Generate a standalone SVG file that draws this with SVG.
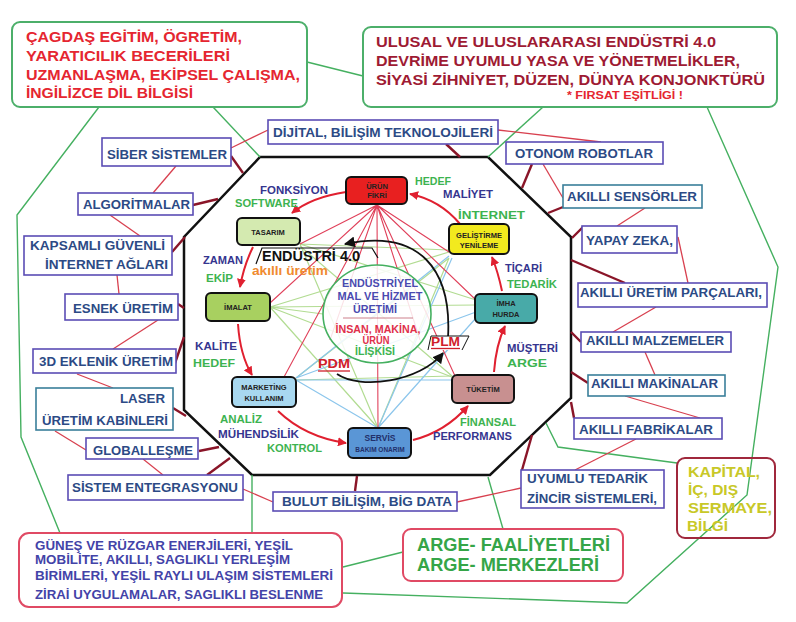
<svg xmlns="http://www.w3.org/2000/svg" width="796" height="622" viewBox="0 0 796 622">
<defs>
<style>
text{font-family:"Liberation Sans",Arial,sans-serif;font-weight:bold}
.bx{fill:#fff;stroke:#5b4db5;stroke-width:1.6}
.bxt{fill:#fff;stroke:#3a7f9a;stroke-width:1.6}
.bt{font-size:12.5px;fill:#2c4a85}
.lnk{stroke:#d8404f;stroke-width:1.3;fill:none}
.stub{stroke:#8a1528;stroke-width:2.4;fill:none}
.grn{stroke:#45b060;stroke-width:1.4;fill:none}
.lg{stroke:#b2dc92;stroke-width:1.2;fill:none}
.lb{stroke:#8cc6ec;stroke-width:1.2;fill:none}
.rf{stroke:#e0405a;stroke-width:1.1;fill:none}
.ra{stroke:#e02030;stroke-width:2;fill:none;marker-end:url(#ah)}
.ba{stroke:#111;stroke-width:1.8;fill:none;marker-end:url(#bh)}
.nd{stroke:#111;stroke-width:2}
.nt{font-size:7.5px;fill:#222}
.lbn{font-size:10px;fill:#35358f}
.lbg{font-size:10px;fill:#3db350}
</style>
<marker id="ah" viewBox="0 0 10 10" refX="9" refY="5" markerWidth="9" markerHeight="9" markerUnits="userSpaceOnUse" orient="auto"><path d="M0,0 L10,5 L0,10 z" fill="#e02030"/></marker>
<marker id="bh" viewBox="0 0 10 10" refX="9" refY="5" markerWidth="11" markerHeight="11" markerUnits="userSpaceOnUse" orient="auto"><path d="M0,0 L10,5 L0,10 z" fill="#111"/></marker>
</defs>
<rect width="796" height="622" fill="#fff"/>

<g id="octagon">
<polygon points="260,157 488,157 571,237 571,398 490,475 252,475 184,410 184,237" fill="#fff" stroke="#111" stroke-width="2.5"/>
</g>

<g id="connectors">
<path class="grn" d="M307,62 L363,76"/>
<path class="grn" d="M99,107 L17,215 L21,437 L60,533"/>
<path class="grn" d="M213,107 L260,157"/>
<path class="grn" d="M543,107 L488,157"/>
<path class="grn" d="M707,107 L778,267 L747,495 L627,603 L343,593"/>
<path class="grn" d="M252,475 L252,533"/>
<path class="grn" d="M488,477 L503,529"/>
<path class="grn" d="M343,567 L403,552"/>
<path class="grn" d="M546,423 L558,447 L677,463"/>
<path class="lnk" d="M268,130 L231,148"/>
<path class="lnk" d="M176,166 L153,193"/>
<path class="lnk" d="M110,215 L140,236"/>
<path class="lnk" d="M117,275 L119,294"/>
<path class="lnk" d="M158,320 L113,349"/>
<path class="lnk" d="M77,374 L113,388"/>
<path class="lnk" d="M55,431 L86,450"/>
<path class="lnk" d="M143,459 L163,475"/>
<path class="lnk" d="M243,489 L273,502"/>
<path class="lnk" d="M457,502 L521,488"/>
<path class="lnk" d="M498,130 L601,142"/>
<path class="lnk" d="M543,164 L563,198"/>
<path class="lnk" d="M645,208 L617,226"/>
<path class="lnk" d="M678,237 L688,283"/>
<path class="lnk" d="M656,307 L613,332"/>
<path class="lnk" d="M645,352 L655,375"/>
<path class="lnk" d="M625,396 L700,418"/>
<path class="lnk" d="M636,439 L575,470"/>
<path class="stub" d="M231,156 L243,173"/>
<path class="stub" d="M193,205 L218,199"/>
<path class="stub" d="M172,252 L185,237"/>
<path class="stub" d="M178,304 L184,308"/>
<path class="stub" d="M174,366 L184,337"/>
<path class="stub" d="M173,408 L186,416"/>
<path class="stub" d="M199,451 L219,447"/>
<path class="stub" d="M207,475 L230,458"/>
<path class="stub" d="M357,476 L355,491"/>
<path class="stub" d="M522,470 L532,435"/>
<path class="stub" d="M574,418 L571,402"/>
<path class="stub" d="M588,383 L571,372"/>
<path class="stub" d="M581,342 L571,332"/>
<path class="stub" d="M571,260 L625,283"/>
<path class="stub" d="M583,227 L572,238"/>
<path class="stub" d="M563,207 L548,213"/>
<path class="stub" d="M532,164 L522,188"/>
<path class="stub" d="M446,144 L460,157"/>
<path class="lg" d="M270,307 L449,252 M270,307 L476,305 M270,307 L452,377 M270,307 L378,428 M270,307 L323,314"/>
<path class="lg" d="M300,244 L449,250 M300,244 L476,300 M300,244 L378,428"/>
<path class="lg" d="M449,258 L296,378 M449,258 L378,428 M452,376 L296,380 M452,376 L300,246"/>
<path class="lb" d="M296,378 L476,312 M296,378 L449,256 M296,380 L452,380 M378,428 L476,318 M378,428 L452,258 M378,428 L296,380"/>
<path class="rf" d="M377,205 L300,244 M377,205 L270,303 M377,205 L284,377 M377,205 L378,428 M377,205 L455,376 M377,205 L476,300 M377,205 L449,252 M377,205 L330,340 M377,205 L420,340"/>
<path class="ra" d="M346,192 Q312,197 292,213"/>
<path class="ra" d="M253,247 Q244,265 240,287"/>
<path class="ra" d="M238,324 Q240,355 252,375"/>
<path class="ra" d="M278,411 Q305,437 346,443"/>
<path class="ra" d="M413,440 Q445,432 468,406"/>
<path class="ra" d="M494,372 Q496,345 505,326"/>
<path class="ra" d="M502,291 Q498,272 492,257"/>
<path class="ra" d="M460,224 Q440,200 410,194"/>
<path class="ba" d="M448,338 C452,270 420,228 345,244"/>
<path class="ba" d="M337,374 C360,390 420,382 443,353"/>
</g>

<g id="top-left-box">
<rect x="12" y="22" width="295" height="85" rx="8" fill="#fff" stroke="#4caf6a" stroke-width="2"/>
<g font-size="15.5" fill="#e52630">
<text x="26" y="42" textLength="216" lengthAdjust="spacingAndGlyphs">ÇAGDAŞ EGİTİM, ÖGRETİM,</text>
<text x="26" y="61" textLength="204" lengthAdjust="spacingAndGlyphs">YARATICILIK BECERİLERİ</text>
<text x="26" y="80" textLength="274" lengthAdjust="spacingAndGlyphs">UZMANLAŞMA, EKİPSEL ÇALIŞMA,</text>
<text x="26" y="98" textLength="167" lengthAdjust="spacingAndGlyphs">İNGİLİZCE DİL BİLGİSİ</text>
</g>
</g>

<g id="top-right-box">
<rect x="363" y="27" width="414" height="80" rx="8" fill="#fff" stroke="#4caf6a" stroke-width="2"/>
<g font-size="15.5" fill="#9e1a33">
<text x="376" y="47" textLength="340" lengthAdjust="spacingAndGlyphs">ULUSAL VE ULUSLARARASI ENDÜSTRİ 4.0</text>
<text x="376" y="66" textLength="364" lengthAdjust="spacingAndGlyphs">DEVRİME UYUMLU YASA VE YÖNETMELİKLER,</text>
<text x="376" y="85" textLength="389" lengthAdjust="spacingAndGlyphs">SİYASİ ZİHNİYET, DÜZEN, DÜNYA KONJONKTÜRÜ</text>
</g>
<text x="567" y="99" font-size="11.5" fill="#e52630" textLength="116" lengthAdjust="spacingAndGlyphs">* FIRSAT EŞİTLİGİ !</text>
</g>

<g id="dijital"><rect class="bx" x="268" y="120" width="230" height="24"/><text class="bt" x="273" y="137" textLength="220" lengthAdjust="spacingAndGlyphs">DİJİTAL, BİLİŞİM TEKNOLOJİLERİ</text></g>
<g id="siber"><rect class="bx" x="102" y="138" width="129" height="28"/><text class="bt" x="107" y="159" textLength="120" lengthAdjust="spacingAndGlyphs">SİBER SİSTEMLER</text></g>
<g id="algoritmalar"><rect class="bx" x="78" y="193" width="115" height="22"/><text class="bt" x="83" y="209" textLength="107" lengthAdjust="spacingAndGlyphs">ALGORİTMALAR</text></g>
<g id="kapsamli"><rect class="bx" x="24" y="236" width="148" height="39"/><text class="bt" x="30" y="250" textLength="135" lengthAdjust="spacingAndGlyphs">KAPSAMLI  GÜVENLİ</text><text class="bt" x="45" y="269" textLength="123" lengthAdjust="spacingAndGlyphs">İNTERNET AĞLARI</text></g>
<g id="esnek"><rect class="bx" x="65" y="294" width="113" height="26"/><text class="bt" x="73" y="313" textLength="100" lengthAdjust="spacingAndGlyphs">ESNEK ÜRETİM</text></g>
<g id="eklenik"><rect class="bx" x="33" y="349" width="143" height="24"/><text class="bt" x="39" y="366" textLength="134" lengthAdjust="spacingAndGlyphs">3D EKLENİK ÜRETİM</text></g>
<g id="laser"><rect class="bxt" x="36" y="388" width="137" height="42"/><text class="bt" x="120" y="403" textLength="45" lengthAdjust="spacingAndGlyphs">LASER</text><text class="bt" x="42" y="425" textLength="126" lengthAdjust="spacingAndGlyphs">ÜRETİM KABİNLERİ</text></g>
<g id="globallesme"><rect class="bx" x="86" y="438" width="112" height="21"/><text class="bt" x="93" y="455" textLength="100" lengthAdjust="spacingAndGlyphs">GLOBALLEŞME</text></g>
<g id="sistem"><rect class="bx" x="68" y="475" width="175" height="25"/><text class="bt" x="72" y="492" textLength="166" lengthAdjust="spacingAndGlyphs">SİSTEM ENTEGRASYONU</text></g>
<g id="bulut"><rect class="bx" x="273" y="492" width="184" height="19"/><text class="bt" x="282" y="506" textLength="170" lengthAdjust="spacingAndGlyphs">BULUT BİLİŞİM, BİG DATA</text></g>
<g id="otonom"><rect class="bx" x="506" y="142" width="157" height="22"/><text class="bt" x="515" y="158" textLength="138" lengthAdjust="spacingAndGlyphs">OTONOM ROBOTLAR</text></g>
<g id="sensor"><rect class="bxt" x="563" y="185" width="139" height="23"/><text class="bt" x="567" y="201" textLength="130" lengthAdjust="spacingAndGlyphs">AKILLI SENSÖRLER</text></g>
<g id="yapay"><rect class="bx" x="582" y="226" width="95" height="27"/><text class="bt" x="586" y="245" textLength="87" lengthAdjust="spacingAndGlyphs">YAPAY ZEKA,</text></g>
<g id="parcalari"><rect class="bx" x="578" y="283" width="189" height="24"/><text class="bt" x="580" y="297" textLength="182" lengthAdjust="spacingAndGlyphs">AKILLI ÜRETİM PARÇALARI,</text></g>
<g id="malzeme"><rect class="bx" x="581" y="332" width="150" height="20"/><text class="bt" x="586" y="345" textLength="138" lengthAdjust="spacingAndGlyphs">AKILLI MALZEMELER</text></g>
<g id="makina"><rect class="bxt" x="588" y="375" width="137" height="21"/><text class="bt" x="591" y="388" textLength="127" lengthAdjust="spacingAndGlyphs">AKILLI MAKİNALAR</text></g>
<g id="fabrika"><rect class="bx" x="574" y="418" width="148" height="21"/><text class="bt" x="579" y="434" textLength="134" lengthAdjust="spacingAndGlyphs">AKILLI FABRİKALAR</text></g>
<g id="uyumlu"><rect class="bx" x="521" y="470" width="143" height="38"/><text class="bt" x="527" y="483" textLength="121" lengthAdjust="spacingAndGlyphs">UYUMLU TEDARİK</text><text class="bt" x="527" y="503" textLength="130" lengthAdjust="spacingAndGlyphs">ZİNCİR SİSTEMLERİ,</text></g>

<g id="bottom-left-box">
<rect x="19" y="533" width="323" height="74" rx="10" fill="#fff" stroke="#e04a64" stroke-width="2"/>
<g font-size="13" fill="#4343a8">
<text x="35" y="550" textLength="258" lengthAdjust="spacingAndGlyphs">GÜNEŞ VE RÜZGAR ENERJİLERİ, YEŞİL</text>
<text x="35" y="564" textLength="255" lengthAdjust="spacingAndGlyphs">MOBİLİTE, AKILLI, SAGLIKLI YERLEŞİM</text>
<text x="35" y="580" textLength="298" lengthAdjust="spacingAndGlyphs">BİRİMLERİ,  YEŞİL RAYLI ULAŞIM SİSTEMLERİ</text>
<text x="35" y="599" textLength="288" lengthAdjust="spacingAndGlyphs">ZİRAİ UYGULAMALAR, SAGLIKLI BESLENME</text>
</g>
</g>

<g id="arge-box">
<rect x="403" y="529" width="220" height="52" rx="8" fill="#fff" stroke="#e04a64" stroke-width="2"/>
<g font-size="19" fill="#35a548">
<text x="417" y="551" textLength="193" lengthAdjust="spacingAndGlyphs">ARGE- FAALİYETLERİ</text>
<text x="417" y="571" textLength="182" lengthAdjust="spacingAndGlyphs">ARGE- MERKEZLERİ</text>
</g>
</g>

<g id="kapital-box">
<rect x="677" y="458" width="98" height="80" rx="8" fill="none" stroke="#a0283c" stroke-width="2"/>
<g font-size="15" fill="#c8c828">
<text x="688" y="477" textLength="72" lengthAdjust="spacingAndGlyphs">KAPİTAL,</text>
<text x="688" y="495" textLength="50" lengthAdjust="spacingAndGlyphs">İÇ, DIŞ</text>
<text x="688" y="513" textLength="84" lengthAdjust="spacingAndGlyphs">SERMAYE,</text>
<text x="687" y="531" textLength="41" lengthAdjust="spacingAndGlyphs">BİLGİ</text>
</g>
</g>

<g id="center-circle">
<ellipse cx="377" cy="314" rx="54" ry="49" fill="#fff" fill-opacity="0.85" stroke="#45b060" stroke-width="1.6"/>
<g font-size="10.5" text-anchor="middle">
<text x="380" y="287" fill="#4a4ab0" textLength="76" lengthAdjust="spacingAndGlyphs">ENDÜSTRİYEL</text>
<text x="380" y="300" fill="#4a4ab0" textLength="85" lengthAdjust="spacingAndGlyphs">MAL VE HİZMET</text>
<text x="375" y="313" fill="#4a4ab0" textLength="44" lengthAdjust="spacingAndGlyphs">ÜRETİMİ</text>
<text x="378" y="333" fill="#e0304a" textLength="85" lengthAdjust="spacingAndGlyphs">İNSAN, MAKİNA,</text>
<text x="376" y="344" fill="#e0304a" textLength="27" lengthAdjust="spacingAndGlyphs">ÜRÜN</text>
<text x="375" y="355" fill="#3db350" textLength="40" lengthAdjust="spacingAndGlyphs">İLİŞKİSİ</text>
</g>
<line x1="343" y1="318" x2="413" y2="318" stroke="#c06070" stroke-width="0.8"/>
</g>

<g id="urun-fikri"><rect class="nd" x="346" y="177" width="61" height="27" rx="5" fill="#e82020"/><text class="nt" x="377" y="189" text-anchor="middle" font-size="6.5">ÜRÜN</text><text class="nt" x="377" y="198" text-anchor="middle" font-size="6.5">FİKRİ</text></g>
<g id="tasarim"><rect class="nd" x="237" y="218" width="63" height="27" rx="5" fill="#d4eab0"/><text class="nt" x="268" y="235" text-anchor="middle">TASARIM</text></g>
<g id="gelistirme"><rect class="nd" x="449" y="224" width="60" height="30" rx="5" fill="#f2ea1e"/><text class="nt" x="479" y="238" text-anchor="middle" font-size="8">GELİŞTİRME</text><text class="nt" x="479" y="248" text-anchor="middle" font-size="8">YENİLEME</text></g>
<g id="imalat"><rect class="nd" x="206" y="293" width="64" height="28" rx="5" fill="#a8d060"/><text class="nt" x="238" y="310" text-anchor="middle">İMALAT</text></g>
<g id="imha"><rect class="nd" x="475" y="294" width="62" height="29" rx="5" fill="#48aaa8"/><text class="nt" x="506" y="306" text-anchor="middle">İMHA</text><text class="nt" x="506" y="317" text-anchor="middle">HURDA</text></g>
<g id="marketing"><rect class="nd" x="232" y="377" width="64" height="30" rx="5" fill="#a8d8f0"/><text class="nt" x="264" y="390" text-anchor="middle" font-size="8">MARKETİNG</text><text class="nt" x="264" y="401" text-anchor="middle" font-size="8">KULLANIM</text></g>
<g id="tuketim"><rect class="nd" x="452" y="375" width="62" height="28" rx="5" fill="#c89090"/><text class="nt" x="483" y="392" text-anchor="middle">TÜKETİM</text></g>
<g id="servis"><rect class="nd" x="348" y="428" width="63" height="30" rx="5" fill="#5a96d6"/><text x="380" y="441" text-anchor="middle" font-size="8.5" fill="#22306a">SERVİS</text><text x="380" y="452" text-anchor="middle" font-size="6.5" fill="#22306a">BAKIM ONARIM</text></g>

<g id="endustri-label">
<path d="M256,264 L262,248 L372,248 L378,258" fill="none" stroke="#111" stroke-width="1.2"/>
<text x="262" y="261" font-size="14" fill="#111" textLength="98" lengthAdjust="spacingAndGlyphs">ENDÜSTRİ 4.0</text>
<text x="252" y="275" font-size="12.5" fill="#f08a30" textLength="76" lengthAdjust="spacingAndGlyphs">akıllı üretim</text>
</g>
<g id="plm-label">
<path d="M428,350 L431,336 L469,336 L462,350" fill="#fff" stroke="#111" stroke-width="1"/>
<text x="431" y="346" font-size="13" fill="#d0202a" textLength="29" lengthAdjust="spacingAndGlyphs">PLM</text>
<line x1="431" y1="348.5" x2="460" y2="348.5" stroke="#d0202a" stroke-width="1.3"/>
</g>
<g id="pdm-label">
<text x="318" y="368" font-size="13" fill="#d0202a" textLength="32" lengthAdjust="spacingAndGlyphs">PDM</text>
<line x1="318" y1="371" x2="350" y2="371" stroke="#d0202a" stroke-width="1.3"/>
</g>

<g id="cycle-labels">
<text class="lbg" x="415" y="185" textLength="36" lengthAdjust="spacingAndGlyphs">HEDEF</text>
<text class="lbn" x="443" y="198" textLength="50" lengthAdjust="spacingAndGlyphs">MALİYET</text>
<text class="lbg" x="458" y="219" textLength="67" lengthAdjust="spacingAndGlyphs">İNTERNET</text>
<text class="lbn" x="260" y="194" textLength="68" lengthAdjust="spacingAndGlyphs">FONKSİYON</text>
<text class="lbg" x="235" y="207" textLength="63" lengthAdjust="spacingAndGlyphs">SOFTWARE</text>
<text class="lbn" x="203" y="264" textLength="40" lengthAdjust="spacingAndGlyphs">ZAMAN</text>
<text class="lbg" x="206" y="282" textLength="27" lengthAdjust="spacingAndGlyphs">EKİP</text>
<text class="lbn" x="195" y="350" textLength="42" lengthAdjust="spacingAndGlyphs">KALİTE</text>
<text class="lbg" x="193" y="367" textLength="42" lengthAdjust="spacingAndGlyphs">HEDEF</text>
<text class="lbg" x="220" y="423" textLength="42" lengthAdjust="spacingAndGlyphs">ANALİZ</text>
<text class="lbn" x="218" y="438" textLength="81" lengthAdjust="spacingAndGlyphs">MÜHENDSİLİK</text>
<text class="lbg" x="267" y="452" textLength="55" lengthAdjust="spacingAndGlyphs">KONTROL</text>
<text class="lbg" x="460" y="426" textLength="56" lengthAdjust="spacingAndGlyphs">FİNANSAL</text>
<text class="lbn" x="433" y="440" textLength="79" lengthAdjust="spacingAndGlyphs">PERFORMANS</text>
<text class="lbn" x="507" y="352" textLength="51" lengthAdjust="spacingAndGlyphs">MÜŞTERİ</text>
<text class="lbg" x="507" y="367" textLength="40" lengthAdjust="spacingAndGlyphs">ARGE</text>
<text class="lbn" x="505" y="272" textLength="37" lengthAdjust="spacingAndGlyphs">TİÇARİ</text>
<text class="lbg" x="507" y="288" textLength="50" lengthAdjust="spacingAndGlyphs">TEDARİK</text>
</g>
</svg>
